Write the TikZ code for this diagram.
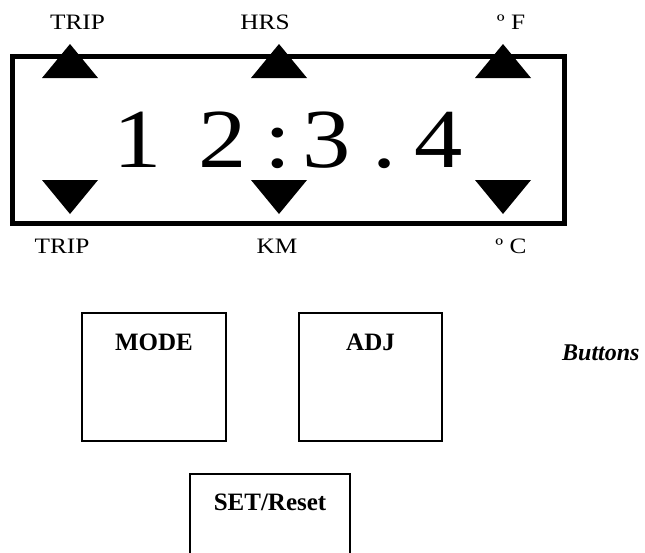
\documentclass[tikz,border=0pt]{standalone}
\usepackage{fontspec}
\usepackage{graphicx}
\setmainfont{Liberation Serif}
\tikzset{
  lbl/.style={anchor=base,inner sep=0pt,font=\fontsize{22}{22}\selectfont},
  digit/.style={anchor=base,inner sep=0pt,font=\fontsize{84}{84}\selectfont},
  btn/.style={draw,line width=1.5pt},
  btntxt/.style={anchor=base,inner sep=0pt,font=\fontsize{25}{25}\selectfont\bfseries},
  tri/.style={fill=black}
}
\newcommand{\widelbl}[1]{\scalebox{1.15}[1]{#1}}
\newcommand{\widedig}[1]{\scalebox{1.15}[1]{#1}}
\begin{document}
\begin{tikzpicture}[x=1pt,y=-1pt]
\useasboundingbox (0,0) rectangle (645,552);
% display
\draw[line width=5pt] (12.5,56) rectangle (564.5,223);
% triangles
\foreach \cx in {70,279,503}{
  \fill[tri] (\cx,44) -- (\cx+28,78) -- (\cx-28,78) -- cycle;
  \fill[tri] (\cx-28,180) -- (\cx+28,180) -- (\cx,214) -- cycle;
}
% labels
\node[lbl] (tripu) at (77.5,29) {\widelbl{TRIP}};
\node[lbl] (hrs) at (265,29) {\widelbl{HRS}};
\node[lbl] (degf) at (511,29) {\widelbl{º F}};
\node[lbl] (tripd) at (62,253) {\widelbl{TRIP}};
\node[lbl] (km) at (277,253) {\widelbl{KM}};
\node[lbl] (degc) at (511,253) {\widelbl{º C}};
% digits
\node[digit] (d1) at (137.5,167) {\widedig{1}};
\node[digit] (d2) at (223,167) {\widedig{2}};
\node[digit] (dc) at (278,167) {\widedig{:}};
\node[digit] (d3) at (327,167) {\widedig{3}};
\node[digit] (dp) at (385,167) {\widedig{.}};
\node[digit] (d4) at (439,167) {\widedig{4}};
% buttons
\draw[btn] (82,313) rectangle (226,441);
\draw[btn] (299,313) rectangle (442,441);
\draw[btn] (190,474) rectangle (350,570);
\node[btntxt] (mode) at (154,350) {MODE};
\node[btntxt] (adj) at (370.5,350) {ADJ};
\node[btntxt] (set) at (270,510) {SET/Reset};
\node[anchor=base west,inner sep=0pt,font=\fontsize{24}{24}\selectfont\bfseries\itshape] (buttons) at (562,360) {Buttons};
\end{tikzpicture}
\end{document}
